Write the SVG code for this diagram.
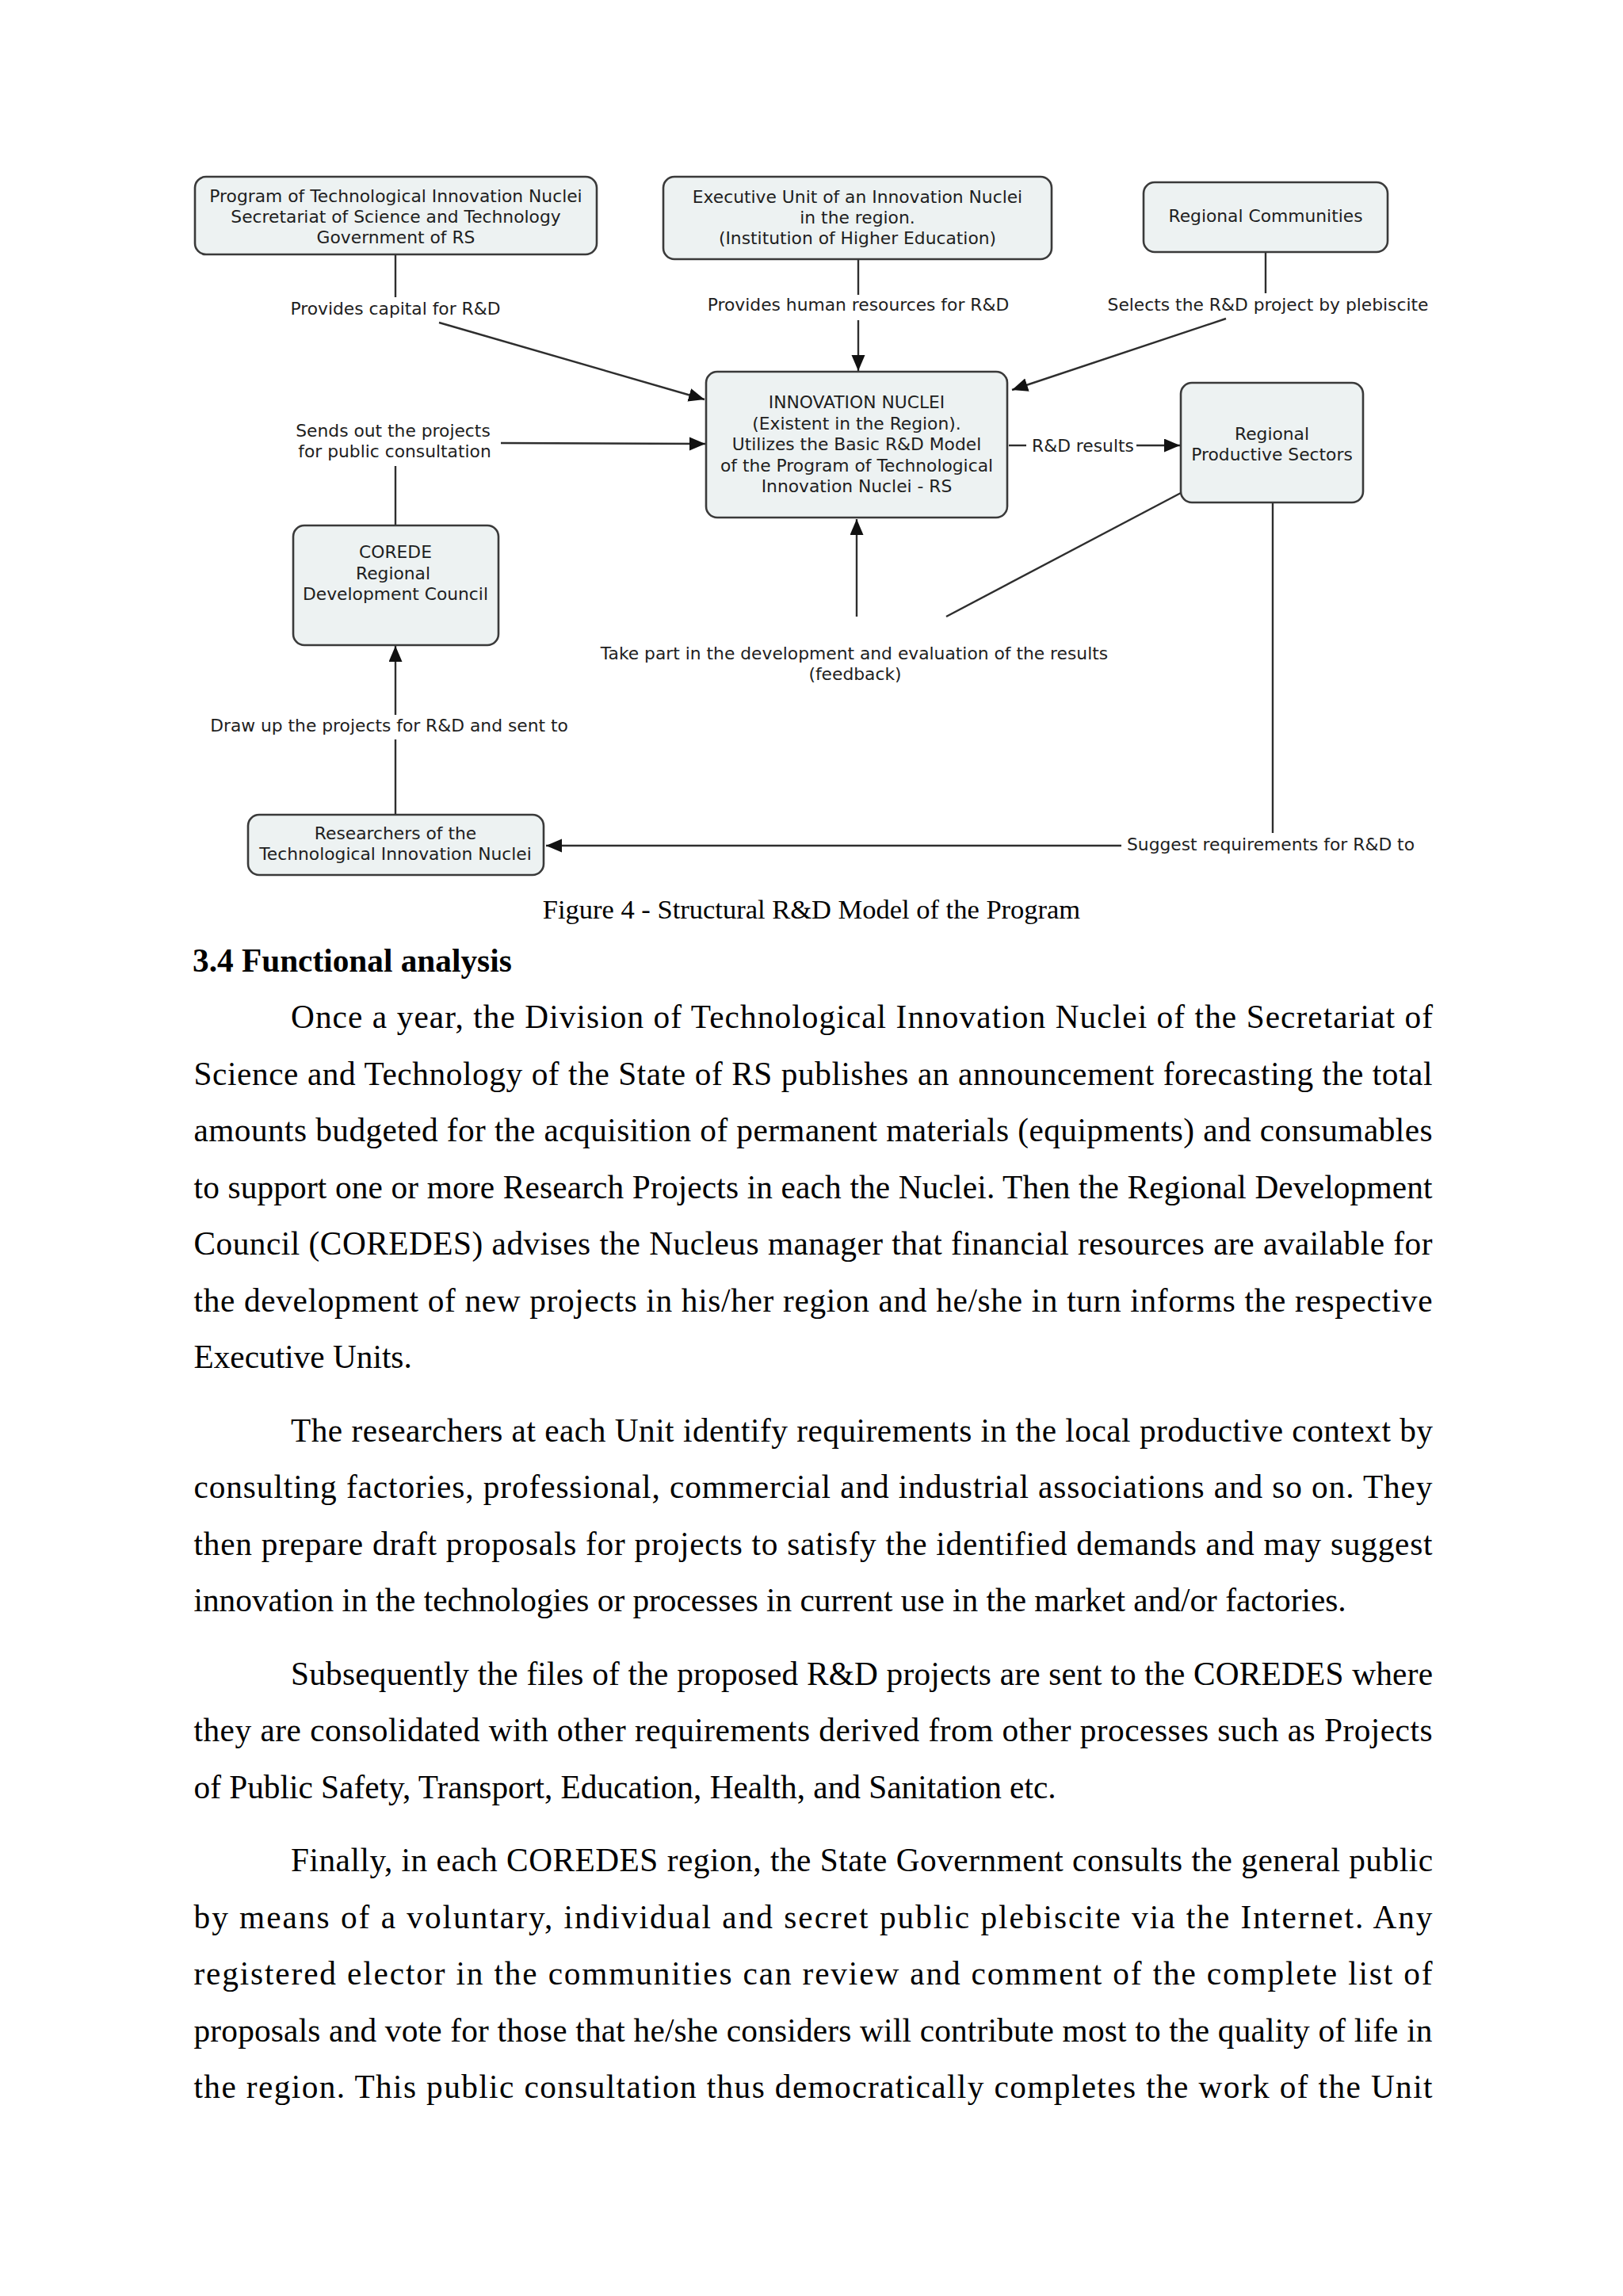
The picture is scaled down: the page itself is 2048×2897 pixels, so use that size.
<svg xmlns="http://www.w3.org/2000/svg" width="2048" height="2897" viewBox="0 0 2048 2897">
<style>
.box{fill:#edf2f2;stroke:#3a3a3a;stroke-width:2.6}
.t{font-family:"DejaVu Sans",Verdana,sans-serif;font-size:21.8px;fill:#1e1e1e;text-anchor:middle}
.ts{font-family:"DejaVu Sans",Verdana,sans-serif;font-size:21.8px;fill:#1e1e1e}
.c line{stroke:#2e2e2e;stroke-width:2.4;fill:none}
.a{marker-end:url(#ah)}
.body{font-family:"Liberation Serif","Times New Roman",serif;font-size:41.3px;fill:#000}
.cap{font-family:"Liberation Serif","Times New Roman",serif;font-size:34.5px;fill:#000;text-anchor:middle}
.h{font-family:"Liberation Serif","Times New Roman",serif;font-size:41.3px;font-weight:bold;fill:#000}
</style>
<defs>
<marker id="ah" markerUnits="userSpaceOnUse" markerWidth="20" markerHeight="18" refX="20" refY="8.5" orient="auto">
<path d="M0,0 L20,8.5 L0,17 z" fill="#111"/>
</marker>
</defs>
<rect width="2048" height="2897" fill="#fff"/>

<g id="connectors" class="c">
<line x1="499" y1="321" x2="499" y2="375"/>
<line class="a" x1="554" y1="407" x2="889" y2="504"/>
<line x1="1083" y1="327" x2="1083" y2="372"/>
<line class="a" x1="1083" y1="404" x2="1083" y2="468"/>
<line x1="1597" y1="318" x2="1597" y2="370"/>
<line class="a" x1="1547" y1="402" x2="1277" y2="492"/>
<line x1="499" y1="663" x2="499" y2="588"/>
<line class="a" x1="632" y1="559" x2="890" y2="560"/>
<line x1="499" y1="1028" x2="499" y2="933"/>
<line class="a" x1="499" y1="902" x2="499" y2="815"/>
<line x1="1273" y1="562" x2="1295" y2="562"/>
<line class="a" x1="1434" y1="562" x2="1489" y2="562"/>
<line x1="1490" y1="622" x2="1194" y2="778"/>
<line class="a" x1="1081" y1="778" x2="1081" y2="655"/>
<line x1="1606" y1="634" x2="1606" y2="1051"/>
<line class="a" x1="1415" y1="1067" x2="689" y2="1067"/>
<text class="t" x="499" y="397">Provides capital for R&amp;D</text>
<text class="t" x="1083" y="392">Provides human resources for R&amp;D</text>
<text class="t" x="1600" y="392">Selects the R&amp;D project by plebiscite</text>
<text class="t" x="496" y="551">Sends out the projects</text>
<text class="t" x="498" y="577">for public consultation</text>
<text class="ts" x="1302" y="570">R&amp;D results</text>
<text class="t" x="1078" y="832">Take part in the development and evaluation of the results</text>
<text class="t" x="1079" y="858">(feedback)</text>
<text class="t" x="491" y="923">Draw up the projects for R&amp;D and sent to</text>
<text class="ts" x="1422" y="1073">Suggest requirements for R&amp;D to</text>
</g>

<g id="program">
<rect class="box" x="246" y="223" width="507" height="98" rx="14"/>
<text class="t" x="499.5" y="255">Program of Technological Innovation Nuclei</text>
<text class="t" x="499.5" y="281">Secretariat of Science and Technology</text>
<text class="t" x="499.5" y="307">Government of RS</text>
</g>

<g id="executive">
<rect class="box" x="837" y="223" width="490" height="104" rx="14"/>
<text class="t" x="1082" y="256">Executive Unit of an Innovation Nuclei</text>
<text class="t" x="1082" y="282">in the region.</text>
<text class="t" x="1082" y="308">(Institution of Higher Education)</text>
</g>

<g id="communities">
<rect class="box" x="1443" y="230" width="308" height="88" rx="14"/>
<text class="t" x="1597" y="280">Regional Communities</text>
</g>

<g id="innovation">
<rect class="box" x="891" y="469" width="380" height="184" rx="14"/>
<text class="t" x="1081" y="515">INNOVATION NUCLEI</text>
<text class="t" x="1081" y="541.5">(Existent in the Region).</text>
<text class="t" x="1081" y="568">Utilizes the Basic R&amp;D Model</text>
<text class="t" x="1081" y="594.5">of the Program of Technological</text>
<text class="t" x="1081" y="621">Innovation Nuclei - RS</text>
</g>

<g id="productive">
<rect class="box" x="1490" y="483" width="230" height="151" rx="14"/>
<text class="t" x="1605" y="555">Regional</text>
<text class="t" x="1605" y="581">Productive Sectors</text>
</g>

<g id="corede">
<rect class="box" x="370" y="663" width="259" height="151" rx="14"/>
<text class="t" x="499" y="704">COREDE</text>
<text class="t" x="496" y="731">Regional</text>
<text class="t" x="499" y="757">Development Council</text>
</g>

<g id="researchers">
<rect class="box" x="313" y="1028" width="373" height="76" rx="14"/>
<text class="t" x="499" y="1059">Researchers of the</text>
<text class="t" x="499" y="1085">Technological Innovation Nuclei</text>
</g>

<g id="page-text">
<text class="cap" x="1024" y="1159">Figure 4 - Structural R&amp;D Model of the Program</text>
<text class="h" x="243" y="1226">3.4 Functional analysis</text>

<text class="body" x="367" y="1297" textLength="1441" lengthAdjust="spacing">Once a year, the Division of Technological Innovation Nuclei of the Secretariat of</text>
<text class="body" x="244.5" y="1368.5" textLength="1563" lengthAdjust="spacing">Science and Technology of the State of RS publishes an announcement forecasting the total</text>
<text class="body" x="244.5" y="1440" textLength="1563" lengthAdjust="spacing">amounts budgeted for the acquisition of permanent materials (equipments) and consumables</text>
<text class="body" x="244.5" y="1511.5" textLength="1563" lengthAdjust="spacing">to support one or more Research Projects in each the Nuclei.  Then the Regional Development</text>
<text class="body" x="244.5" y="1583" textLength="1563" lengthAdjust="spacing">Council (COREDES) advises the Nucleus manager that financial resources are available for</text>
<text class="body" x="244.5" y="1654.5" textLength="1563" lengthAdjust="spacing">the development of new projects in his/her region and he/she in turn informs the respective</text>
<text class="body" x="244.5" y="1726">Executive Units.</text>

<text class="body" x="367" y="1818.5" textLength="1441" lengthAdjust="spacing">The researchers at each Unit identify requirements in the local productive context by</text>
<text class="body" x="244.5" y="1890" textLength="1563" lengthAdjust="spacing">consulting factories, professional, commercial and industrial associations and so on. They</text>
<text class="body" x="244.5" y="1961.5" textLength="1563" lengthAdjust="spacing">then prepare draft proposals for projects to satisfy the identified demands and may suggest</text>
<text class="body" x="244.5" y="2033">innovation in the technologies or processes in current use in the market and/or factories.</text>

<text class="body" x="367" y="2125.5" textLength="1441" lengthAdjust="spacing">Subsequently the files of the proposed R&amp;D projects are sent to the COREDES where</text>
<text class="body" x="244.5" y="2197" textLength="1563" lengthAdjust="spacing">they are consolidated with other requirements derived from other processes such as Projects</text>
<text class="body" x="244.5" y="2268.5">of Public Safety, Transport, Education, Health, and Sanitation etc.</text>

<text class="body" x="367" y="2361" textLength="1441" lengthAdjust="spacing">Finally, in each COREDES region, the State Government consults the general public</text>
<text class="body" x="244.5" y="2432.5" textLength="1563" lengthAdjust="spacing">by means of a voluntary, individual and secret public plebiscite via the Internet. Any</text>
<text class="body" x="244.5" y="2504" textLength="1563" lengthAdjust="spacing">registered elector in the communities can review and comment of the complete list of</text>
<text class="body" x="244.5" y="2575.5" textLength="1563" lengthAdjust="spacing">proposals and vote for those that he/she considers will contribute most to the quality of life in</text>
<text class="body" x="244.5" y="2647" textLength="1563" lengthAdjust="spacing">the region. This public consultation thus democratically completes the work of the Unit</text>
</g>
</svg>
